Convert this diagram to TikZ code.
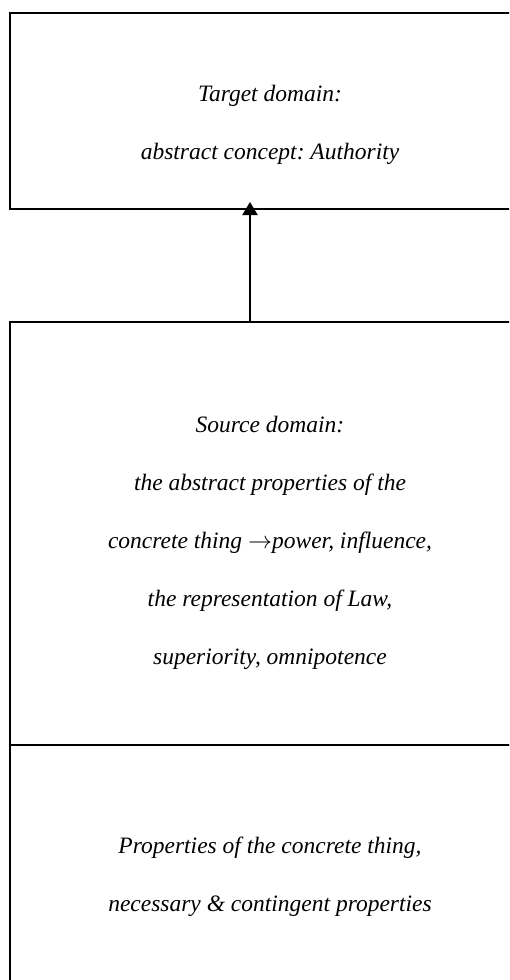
\documentclass[tikz,border=0pt]{standalone}
\usepackage{fontspec}
\setmainfont{Liberation Serif}
\frenchspacing
\usetikzlibrary{positioning,arrows.meta}
\tikzset{
  domain box/.style={draw=black, line width=1pt, outer sep=0pt, inner sep=0pt, minimum width=260pt},
  domain text/.style={align=center, font=\itshape\fontsize{11.75}{29}\selectfont, inner sep=0pt},
  domain arrow/.style={line width=1pt, -{Triangle[width=7.5pt,length=6.5pt]}},
}

\begin{document}
\begin{tikzpicture}[x=0.5pt,y=-0.5pt]
\useasboundingbox (0,0) rectangle (509,980);
\clip (0,0) rectangle (509,980);
%the nodes
\node [domain box, minimum height=98pt, anchor=north west] (target) at (10,13) {};
\node [domain box, minimum height=211.5pt, below=56.5pt of target] (source) {};
\node [domain box, minimum height=130pt, below=0pt of source] (props) {};
\node [domain text] (targettext) at (270,125) {Target domain:\\abstract concept: Authority};
\node [domain text] (sourcetext) at (270,543) {Source domain:\\the abstract properties of the\\concrete thing ${\rightarrow}$power, influence,\\the representation of Law,\\superiority, omnipotence};
\node [domain text] (propstext) at (270,877) {Properties of the concrete thing,\\necessary \& contingent properties};
\coordinate (arrowx) at (250,0);
%drawings of vectors
\draw[domain arrow] (source.north -| arrowx) -- ([yshift=3.5pt]target.south -| arrowx);
\end{tikzpicture}
\end{document}
